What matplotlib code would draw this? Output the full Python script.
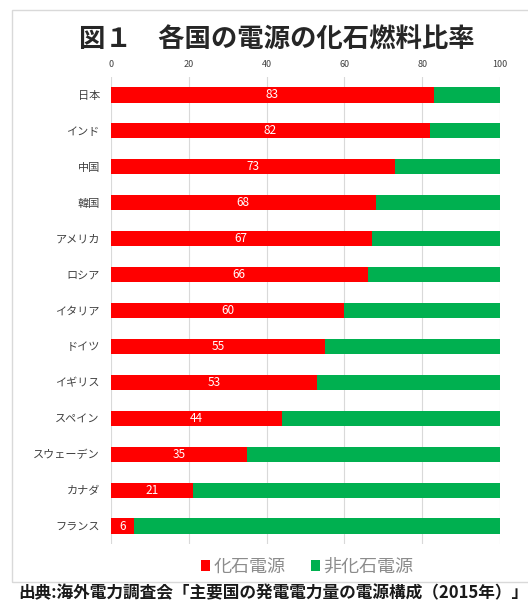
import numpy as np
import matplotlib.pyplot as plt
from matplotlib.patches import Rectangle

plt.rcParams['font.family'] = ['Noto Sans CJK JP', 'DejaVu Sans']

countries = ['日本', 'インド', '中国', '韓国', 'アメリカ', 'ロシア', 'イタリア',
             'ドイツ', 'イギリス', 'スペイン', 'スウェーデン', 'カナダ', 'フランス']
fossil = [83, 82, 73, 68, 67, 66, 60, 55, 53, 44, 35, 21, 6]
non_fossil = [100 - v for v in fossil]

red = '#FF0000'
green = '#00B050'

fig = plt.figure(figsize=(5.28, 6.08), dpi=100)
fig.patches.append(Rectangle((12 / 528, 1 - 582 / 608), 1.0, 572 / 608,
                             transform=fig.transFigure, fill=False,
                             edgecolor='#d9d9d9', lw=1))

ax = fig.add_axes([111 / 528, 1 - 544 / 608, 389 / 528, 467 / 608])
y = np.arange(len(countries))
ax.barh(y, fossil, height=0.42, color=red, label='化石電源')
ax.barh(y, non_fossil, left=fossil, height=0.42, color=green, label='非化石電源')

for yi, v in zip(y, fossil):
    ax.text(v / 2, yi, str(v), color='white', ha='center', va='center', fontsize=8.5)

ax.set_ylim(len(countries) - 0.5, -0.5)
ax.set_xlim(0, 100)
ax.set_yticks(y)
ax.set_yticklabels(countries, fontsize=8, color='#404040')
ax.set_xticks([0, 20, 40, 60, 80, 100])
ax.xaxis.tick_top()
ax.tick_params(axis='x', labelsize=6.5, colors='#404040', length=0, pad=6)
ax.tick_params(axis='y', length=0, pad=8)
ax.grid(axis='x', color='#d9d9d9', lw=0.8)
ax.set_axisbelow(True)
for s in ax.spines.values():
    s.set_visible(False)

fig.text(0.525, 1 - 40 / 608, '図１　各国の電源の化石燃料比率', ha='center', va='center',
         fontsize=19, fontweight='bold', color='#262626')

fig.legend(loc='center', bbox_to_anchor=(307 / 528, 1 - 567 / 608), ncol=2,
           frameon=False, fontsize=13, handlelength=0.5, handleheight=0.5,
           handletextpad=0.2, columnspacing=1.4, labelcolor='#8c8c8c')

fig.text(18 / 528, 1 - 593 / 608,
         '出典:海外電力調査会「主要国の発電電力量の電源構成（2015年）」',
         ha='left', va='center', fontsize=12, fontweight='bold', color='#1a1a1a')

fig.savefig('out.png', dpi=100)
